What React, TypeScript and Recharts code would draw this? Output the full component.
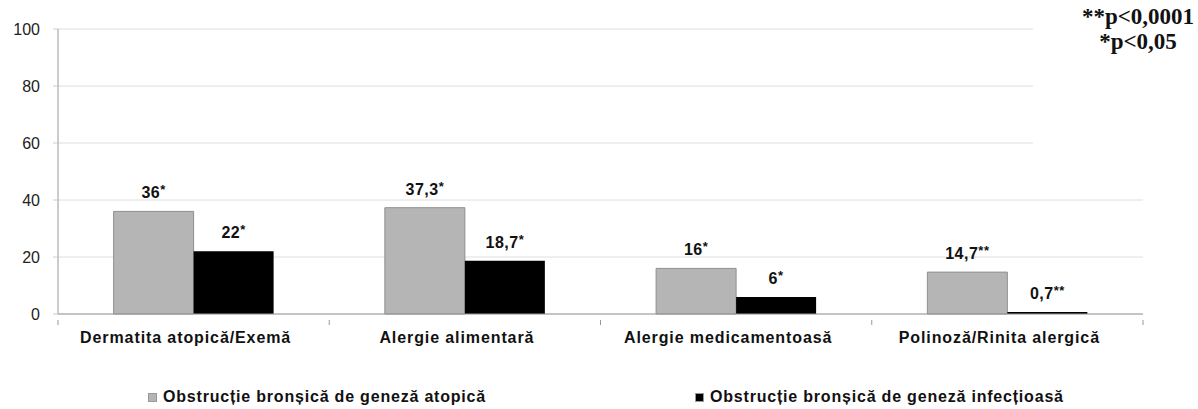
import React from "react";
import { BarChart, Bar, XAxis, YAxis, CartesianGrid, Legend, LabelList } from "recharts";

const categories = [
  "Dermatita atopică/Exemă",
  "Alergie alimentară",
  "Alergie medicamentoasă",
  "Polinoză/Rinita alergică",
];
const atopic = [36, 37.3, 16, 14.7];
const infectious = [22, 18.7, 6, 0.7];
const atopicMarks = ["*", "*", "*", "**"];
const infectiousMarks = ["*", "*", "*", "**"];
const yTicks = [0, 20, 40, 60, 80, 100];
const seriesNames = [
  "Obstrucție bronșică de geneză atopică",
  "Obstrucție bronșică de geneză infecțioasă",
];
const pNotes = ["**p<0,0001", "*p<0,05"];

const FONT = '"Liberation Sans", Arial, sans-serif';
const GRAY = "#b5b5b5";

const data = categories.map((name, i) => ({
  name,
  atopic: atopic[i],
  infectious: infectious[i],
}));

const fmt = (v: number) => String(v).replace(".", ",");

const valueLabel = (marks: string[]) => (props: any) => {
  const { x, y, width, value, index } = props;
  return (
    <text x={x + width / 2} y={y - 13} textAnchor="middle" fontFamily={FONT} fontWeight="bold" fontSize={16} letterSpacing={0.5} fill="#111">
      <tspan>{fmt(value)}</tspan>
      <tspan dy={-4} fontSize={13}>{marks[index]}</tspan>
    </text>
  );
};

// category label + small tick marks at the category boundaries
const CategoryTick = (props: any) => {
  const { x, y, payload, index, width, visibleTicksCount } = props;
  const band = width / (visibleTicksCount || categories.length);
  const top = y - 12;
  return (
    <g>
      <line x1={x - band / 2} x2={x - band / 2} y1={top} y2={top + 5} stroke="#999" />
      {index === categories.length - 1 && (
        <line x1={x + band / 2} x2={x + band / 2} y1={top} y2={top + 5} stroke="#999" />
      )}
      <text x={x - 8} y={y} dy="0.71em" textAnchor="middle" fontFamily={FONT} fontWeight="bold" fontSize={16} letterSpacing={0.9} fill="#111">
        {payload.value}
      </text>
    </g>
  );
};

const LegendBox = () => (
  <div style={{ position: "relative", height: 20, fontFamily: FONT, fontWeight: "bold", fontSize: 16, letterSpacing: 0.8, color: "#111" }}>
    {[
      { left: 148, color: GRAY, label: seriesNames[0] },
      { left: 695, color: "#000", label: seriesNames[1] },
    ].map(it => (
      <div key={it.label} style={{ position: "absolute", left: it.left, top: 0, height: 20, display: "flex", alignItems: "center", whiteSpace: "nowrap" }}>
        <span style={{ display: "inline-block", width: 9, height: 9, background: it.color, border: "1px solid #999", boxSizing: "border-box", marginRight: 6 }} />
        <span>{it.label}</span>
      </div>
    ))}
  </div>
);

export default function App() {
  return (
    <div style={{ position: "absolute", left: 0, top: 0, width: 1198, height: 409, background: "#fff", overflow: "hidden" }}>
      <BarChart
        width={1198}
        height={409}
        data={data}
        margin={{ top: 29, right: 55, left: 0, bottom: 35 }}
        barCategoryGap="20.5%"
        barGap={0}
      >
        <CartesianGrid vertical={false} stroke="#dedede" />
        <XAxis
          dataKey="name"
          height={40}
          axisLine={{ stroke: "#999" }}
          tickLine={false}
          tickMargin={12}
          tick={<CategoryTick />}
          interval={0}
        />
        <YAxis
          width={58}
          domain={[0, 100]}
          ticks={yTicks}
          axisLine={{ stroke: "#999" }}
          tickLine={{ stroke: "#ccc" }}
          tickSize={5}
          tickMargin={13}
          tick={{ fontFamily: FONT, fontSize: 16, fill: "#222" }}
        />
        <Legend
          verticalAlign="bottom"
          content={<LegendBox />}
          wrapperStyle={{ top: 387, bottom: "auto", left: 0, width: 1198, height: 20 }}
        />
        <Bar dataKey="atopic" name={seriesNames[0]} fill={GRAY} stroke="#8f8f8f" strokeWidth={1} isAnimationActive={false}>
          <LabelList dataKey="atopic" content={valueLabel(atopicMarks)} />
        </Bar>
        <Bar dataKey="infectious" name={seriesNames[1]} fill="#000" isAnimationActive={false}>
          <LabelList dataKey="infectious" content={valueLabel(infectiousMarks)} />
        </Bar>
      </BarChart>
      <div
        style={{
          position: "absolute", left: 1033, top: 0, width: 165, height: 150, background: "#fff",
          paddingLeft: 45, paddingTop: 4, boxSizing: "border-box", textAlign: "center",
          fontFamily: '"Liberation Serif", "Times New Roman", serif', fontWeight: "bold", fontSize: 23, lineHeight: "25px", color: "#111",
        }}
      >
        {pNotes.map(t => <div key={t}>{t}</div>)}
      </div>
    </div>
  );
}
